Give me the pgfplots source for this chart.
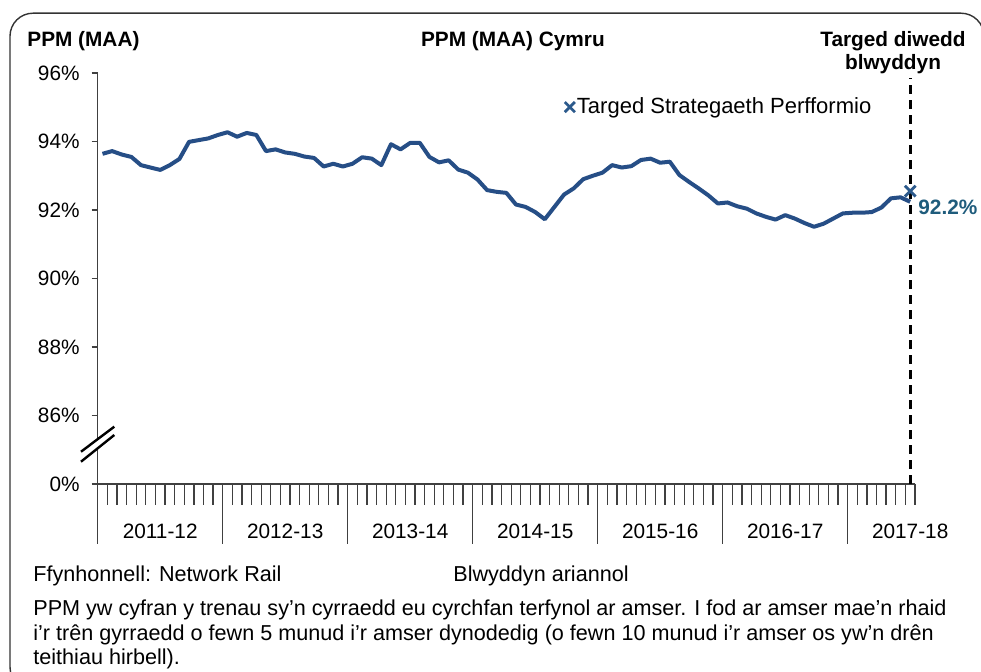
\documentclass[border=0pt]{standalone}
\usepackage{pgfplots}
\pgfplotsset{compat=1.18}
\usepackage{pgfplotstable}
\usepackage{fontspec}
\setmainfont{Liberation Sans}
\definecolor{linecol}{HTML}{264E86}
\definecolor{labcol}{HTML}{1F5C7C}
\definecolor{markcol}{HTML}{2C5A8C}
\definecolor{axcol}{HTML}{404040}
\newcommand\fs{\fontsize{10.4}{12.5}\selectfont}
\newcommand\fn{\fontsize{10.8}{12.5}\selectfont}

\pgfplotstableread{
x y
1 93.64
2 93.72
3 93.62
4 93.55
5 93.31
6 93.24
7 93.17
8 93.31
9 93.49
10 93.99
11 94.04
12 94.09
13 94.19
14 94.27
15 94.14
16 94.25
17 94.19
18 93.72
19 93.77
20 93.68
21 93.64
22 93.56
23 93.52
24 93.27
25 93.35
26 93.27
27 93.35
28 93.54
29 93.50
30 93.31
31 93.92
32 93.77
33 93.96
34 93.96
35 93.55
36 93.39
37 93.45
38 93.18
39 93.09
40 92.89
41 92.58
42 92.53
43 92.50
44 92.16
45 92.09
46 91.94
47 91.73
48 92.09
49 92.45
50 92.63
51 92.90
52 93.00
53 93.09
54 93.31
55 93.24
56 93.28
57 93.46
58 93.50
59 93.38
60 93.41
61 93.02
62 92.82
63 92.63
64 92.43
65 92.19
66 92.22
67 92.11
68 92.04
69 91.90
70 91.80
71 91.72
72 91.85
73 91.75
74 91.62
75 91.51
76 91.60
77 91.75
78 91.90
79 91.92
80 91.92
81 91.94
82 92.07
83 92.34
84 92.37
85 92.24
}\ppmdata

\begin{document}
\begin{tikzpicture}[font=\fs]
\useasboundingbox (0pt,0pt) rectangle (490.5pt,-336pt);
\begin{scope}
\clip (0pt,0pt) rectangle (490.5pt,-336pt);
\draw[black!80, line width=0.7pt, rounded corners=11.5pt] (5pt,-6.6pt) rectangle (492pt,-345pt);
\end{scope}
\begin{axis}[
  at={(48.85pt,-242pt)}, anchor=south west,
  scale only axis, width=408.65pt, height=205.5pt,
  xmin=0.5, xmax=85.5, ymin=84, ymax=96,
  axis lines=left,
  axis line style={-, draw=axcol, line width=0.65pt},
  xtick=\empty,
  ytick={84,86,88,90,92,94,96},
  yticklabels={0\%,86\%,88\%,90\%,92\%,94\%,96\%},
  tick align=outside, major tick length=3pt,
  tick style={draw=axcol, line width=0.65pt},
  yticklabel style={font=\fs, inner sep=0pt, xshift=-5.85pt},
  clip=false,
  title={\bfseries PPM (MAA) Cymru},
  every axis title/.style={at={(axis description cs:0.508,1.0633)}, anchor=base, inner sep=0pt, font=\fs},
  ylabel={\bfseries PPM (MAA)},
  every axis y label/.style={at={(axis description cs:-0.0865,1.0633)}, anchor=base west, inner sep=0pt, font=\fs},
  xlabel={Blwyddyn ariannol},
  every axis x label/.style={at={(axis description cs:0.4347,-0.2384)}, anchor=base west, inner sep=0pt, font=\fn},
  legend style={draw=none, fill=none, at={(axis description cs:0.571,0.917)}, anchor=west, inner sep=0pt, font=\fontsize{11}{13}\selectfont, nodes={inner sep=1pt}},
  legend cell align=left,
  legend image code/.code={\draw[#1, mark size=3.6pt] plot coordinates {(0pt,0pt)};},
]
\addplot[forget plot, black, line width=1.4pt, dash pattern=on 4.5pt off 3pt] coordinates {(85,84) (85,95.85)};
\addplot[forget plot, linecol, line width=2pt, line join=round] table[x=x,y=y] {\ppmdata};
\addplot[only marks, mark=x, mark size=3.8pt, color=markcol, mark options={line width=1.4pt}] coordinates {(85,92.55)};
\addlegendentry{Targed Strategaeth Perfformio}
\node[anchor=west, inner sep=0pt, font=\bfseries\fs, color=labcol] at (axis cs:85,92.08) [xshift=3.9pt] {92.2\%};
\pgfplotsinvokeforeach{0.5,1.5,...,85.5}{\draw[axcol, line width=0.65pt] (axis cs:#1,84) -- ++(0pt,-10.5pt);}
\pgfplotsinvokeforeach{0.5,13.5,26.5,39.5,52.5,65.5,78.5}{\draw[axcol, line width=0.65pt] (axis cs:#1,84) -- ++(0pt,-30pt);}
\node[font=\fs, inner sep=0pt] at (axis cs:7,84) [yshift=-23.75pt] {2011-12};
\node[font=\fs, inner sep=0pt] at (axis cs:20,84) [yshift=-23.75pt] {2012-13};
\node[font=\fs, inner sep=0pt] at (axis cs:33,84) [yshift=-23.75pt] {2013-14};
\node[font=\fs, inner sep=0pt] at (axis cs:46,84) [yshift=-23.75pt] {2014-15};
\node[font=\fs, inner sep=0pt] at (axis cs:59,84) [yshift=-23.75pt] {2015-16};
\node[font=\fs, inner sep=0pt] at (axis cs:72,84) [yshift=-23.75pt] {2016-17};
\node[font=\fs, inner sep=0pt] at (axis cs:85,84) [yshift=-23.75pt] {2017-18};
\end{axis}
\begin{scope}[x=0.5pt,y=-0.5pt]
  % axis break marks
  \fill[white] (81,451.7) -- (114.3,426.7) -- (114.3,435) -- (81,461.7) -- cycle;
  \draw[black, line width=1.2pt] (81,451.7) -- (114.3,426.7);
  \draw[black, line width=1.2pt] (81,461.7) -- (114.3,435);
  \node[anchor=base, inner sep=0pt, font=\bfseries\fs] at (893,47) {Targed diwedd};
  \node[anchor=base, inner sep=0pt, font=\bfseries\fs] at (893,70) {blwyddyn};
  \node[anchor=base west, inner sep=0pt, font=\fn] at (33,582) {Ffynhonnell: Network Rail};
  \node[anchor=base west, inner sep=0pt, font=\fn] at (33,616) {PPM yw cyfran y trenau sy'n cyrraedd eu cyrchfan terfynol ar amser. I fod ar amser mae'n rhaid};
  \node[anchor=base west, inner sep=0pt, font=\fn] at (33,641) {i'r trên gyrraedd o fewn 5 munud i'r amser dynodedig (o fewn 10 munud i'r amser os yw'n drên};
  \node[anchor=base west, inner sep=0pt, font=\fn] at (33,665) {teithiau hirbell).};
\end{scope}
\end{tikzpicture}
\end{document}
